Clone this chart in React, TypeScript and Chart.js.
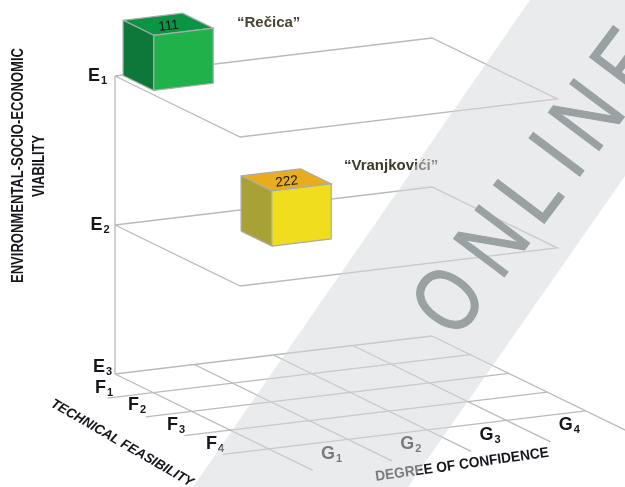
import React, { useEffect, useRef } from "react";
import { Chart, registerables } from "chart.js";

Chart.register(...registerables);

// Axis categories
const eLabels = ["3", "2", "1"];
const fLabels = ["1", "2", "3", "4"];
const gLabels = ["1", "2", "3", "4"];
const eLevels = [0, 1, 2];
const fLevels = [1, 2, 3, 4];
const gLevels = [1, 2, 3, 4];

// Projects, each placed in (G, F, E) axis units
const siteNames = ["\u201CRe\u010Dica\u201D", "\u201CVranjkovi\u0107i\u201D"];
const siteCodes = ["111", "222"];
const siteG = [0, 1.15];
const siteF = [0.21, 0.91];
const siteE = [2.03, 1];

// Face colours: front, side, top
const siteFront = ["#20b14a", "#f0dd1d"];
const siteSide = ["#0e7838", "#a8a236"];
const siteTop = ["#0b9444", "#e9ac1f"];

// Watermark
const stampLetters = ["O", "N", "L", "I", "N", "E"];
const stampOffsets = [-210, -136, -69, -11, 22, 91];

const GRID = "#b8babc";
const EDGE = "#a9acaa";
const INK = "#15171c";

// Oblique axes of the 3D frame
const proj = (g: number, f: number, e: number) => ({
  x: 115 + 79.25 * g + 38.4 * f,
  y: 374 - 9.5 * g + 18.7 * f - 149 * e,
});

type Pt = { x: number; y: number };
const layers: any[] = [];
const line = (data: Pt[], borderColor = GRID, borderWidth = 1.3) =>
  layers.push({ data, borderColor, borderWidth, showLine: true, pointRadius: 0, fill: false });
const face = (data: Pt[], backgroundColor: string) =>
  layers.push({
    data: [...data, data[0]],
    borderColor: EDGE,
    borderWidth: 1.2,
    backgroundColor,
    showLine: true,
    pointRadius: 0,
    fill: "shape",
  });

// floor
line([proj(0, 0, 0), proj(4, 0, 0)]);
line([proj(0, 0, 0), proj(0, 5.15, 0)]);
fLevels.forEach((f) => line([proj(-0.58, f, 0), proj(4, f, 0)]));
gLevels.forEach((g) => line([proj(g, 0, 0), proj(g, 5.15, 0)]));
// E axis
line([proj(0, 0, 0), proj(0, 0, 2)]);
// E1 and E2 planes
[1, 2].forEach((e) =>
  line([proj(0, 0, e), proj(0, 3.26, e), proj(4, 3.26, e), proj(4, 0, e), proj(0, 0, e)])
);
// cubes
const W = 0.75;
const D = 0.8;
const H = 0.37;
siteG.forEach((g, i) => {
  const f = siteF[i];
  const e = siteE[i];
  face([proj(g, f, e + H), proj(g + W, f, e + H), proj(g + W, f + D, e + H), proj(g, f + D, e + H)], siteTop[i]);
  face([proj(g, f, e), proj(g, f + D, e), proj(g, f + D, e + H), proj(g, f, e + H)], siteSide[i]);
  face([proj(g, f + D, e), proj(g + W, f + D, e), proj(g + W, f + D, e + H), proj(g, f + D, e + H)], siteFront[i]);
});

const FAMILY = '"Liberation Sans", Arial, sans-serif';

function subscripted(ctx: CanvasRenderingContext2D, base: string, sub: string, x: number, y: number, color = INK) {
  ctx.fillStyle = color;
  ctx.font = `bold 18px ${FAMILY}`;
  ctx.fillText(base, x, y);
  const w = ctx.measureText(base).width;
  ctx.font = `bold 11px ${FAMILY}`;
  ctx.fillText(sub, x + w + 1, y + 3);
}

function rotated(
  ctx: CanvasRenderingContext2D,
  text: string,
  x: number,
  y: number,
  angle: number,
  font: string,
  color: string,
  maxWidth?: number,
  align: CanvasTextAlign = "left"
) {
  ctx.save();
  ctx.translate(x, y);
  ctx.rotate((angle * Math.PI) / 180);
  ctx.font = font;
  ctx.fillStyle = color;
  ctx.textAlign = align;
  if (maxWidth) ctx.fillText(text, 0, 0, maxWidth);
  else ctx.fillText(text, 0, 0);
  ctx.restore();
}

const overlay = {
  id: "overlay",
  afterDatasetsDraw(chart: any) {
    const ctx: CanvasRenderingContext2D = chart.ctx;
    const sx = chart.scales.x;
    const sy = chart.scales.y;
    const px = (p: Pt) => ({ x: sx.getPixelForValue(p.x), y: sy.getPixelForValue(p.y) });
    ctx.save();
    ctx.textBaseline = "alphabetic";

    // axis letters
    const eDy = [-2, 5, 5];
    eLevels.forEach((e, i) => {
      const p = px(proj(0, 0, e));
      subscripted(ctx, "E", eLabels[i], p.x - 22 - 2.5 * e, p.y + eDy[i]);
    });
    const fDx = [-12.4, -17.8, -17.2, -16.6];
    const fDy = [-5, -7, -5.6, -5.3];
    fLevels.forEach((f, i) => {
      const p = px(proj(-0.58, f, 0));
      subscripted(ctx, "F", fLabels[i], p.x + fDx[i], p.y + fDy[i]);
    });
    gLevels.forEach((g, i) => {
      const p = px(proj(g, 5.15, 0));
      subscripted(ctx, "G", gLabels[i], p.x - 71, p.y - 2);
    });

    // cube codes and names
    siteCodes.forEach((code, i) => {
      const p = px(proj(siteG[i] + W / 2, siteF[i] + D / 2, siteE[i] + H));
      rotated(ctx, code, p.x + 1, p.y + 5.5, -7, `13.5px ${FAMILY}`, INK, undefined, "center");
    });
    ctx.font = `bold 15px ${FAMILY}`;
    ctx.fillStyle = "#4a4433";
    ctx.fillText(siteNames[0], 237, 27);
    ctx.fillStyle = "#3d3a2c";
    ctx.fillText(siteNames[1], 344, 170);

    // axis titles
    const bold = `bold 16px ${FAMILY}`;
    rotated(ctx, "ENVIRONMENTAL-SOCIO-ECONOMIC", 23, 165.5, -90, bold, INK, 235, "center");
    rotated(ctx, "VIABILITY", 44, 166, -90, bold, INK, 62, "center");
    rotated(ctx, "TECHNICAL FEASIBILITY", 50, 406, 30, `italic bold 13.5px ${FAMILY}`, INK, 162);
    rotated(ctx, "DEGREE OF CONFIDENCE", 376, 481, -8, `bold 14.5px ${FAMILY}`, INK, 175);

    // watermark band
    ctx.beginPath();
    ctx.moveTo(530, 0);
    ctx.lineTo(625, 0);
    ctx.lineTo(625, 176);
    ctx.lineTo(408, 487);
    ctx.lineTo(193, 487);
    ctx.closePath();
    ctx.fillStyle = "rgba(214,215,217,0.51)";
    ctx.fill();

    // watermark word
    stampLetters.forEach((letter, i) => {
      const t = stampOffsets[i];
      ctx.save();
      ctx.translate(582 + 0.6 * t, 173 - 0.8 * t);
      ctx.rotate((-53 * Math.PI) / 180);
      ctx.scale(i === 0 ? 0.78 : 0.82, 1);
      ctx.font = `92px ${FAMILY}`;
      ctx.fillStyle = "#9aa1a3";
      ctx.strokeStyle = "#9aa1a3";
      ctx.lineWidth = 1.2;
      ctx.fillText(letter, 0, 0);
      ctx.strokeText(letter, 0, 0);
      ctx.restore();
    });
    ctx.restore();
  },
};

export default function App() {
  const ref = useRef<HTMLCanvasElement>(null);
  useEffect(() => {
    const chart = new Chart(ref.current!, {
      type: "scatter",
      data: { datasets: layers.map((d, i) => ({ ...d, order: layers.length - i })) },
      options: {
        animation: false,
        responsive: false,
        layout: { padding: 0 },
        plugins: { legend: { display: false }, tooltip: { enabled: false } },
        scales: {
          x: { type: "linear", display: false, min: 0, max: 625 },
          y: { type: "linear", display: false, min: 0, max: 487, reverse: true },
        },
      },
      plugins: [overlay],
    } as any);
    return () => chart.destroy();
  }, []);
  return (
    <div style={{ position: "fixed", left: 0, top: 0, width: 625, height: 487, background: "#fff" }}>
      <canvas ref={ref} width={625} height={487} style={{ display: "block" }} />
    </div>
  );
}
